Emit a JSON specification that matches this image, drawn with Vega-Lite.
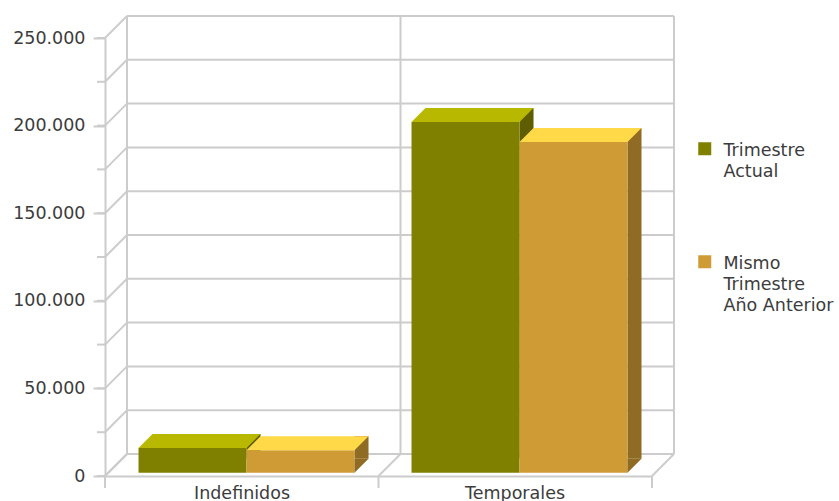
{
  "$schema": "https://vega.github.io/schema/vega-lite/v6.json",
  "width": 547,
  "height": 438,
  "autosize": {"type": "none"},
  "padding": {"left": 105, "top": 38, "right": 187, "bottom": 25},
  "background": "white",
  "config": {
    "view": {"stroke": null},
    "font": "DejaVu Sans",
    "axisY": {
      "labelExpr": "replace(format(datum.value, ','), ',', '.')",
      "labelFont": "DejaVu Sans",
      "labelFontSize": 17.5,
      "labelColor": "#3c3c3c",
      "labelPadding": 8,
      "tickSize": 12,
      "tickColor": "#cccccc",
      "tickWidth": 2,
      "domainColor": "#cccccc",
      "domainWidth": 2,
      "grid": false,
      "title": null
    },
    "axisX": {
      "labelFont": "DejaVu Sans",
      "labelFontSize": 17.5,
      "labelColor": "#3c3c3c",
      "labelAngle": 0,
      "labelOffset": -4.5,
      "labelPadding": 8,
      "ticks": false,
      "domainColor": "#cccccc",
      "domainWidth": 2,
      "grid": false,
      "title": null
    },
    "legend": {
      "orient": "none",
      "legendX": 591,
      "legendY": 102,
      "direction": "vertical",
      "title": null,
      "symbolType": "square",
      "symbolSize": 169,
      "symbolStrokeWidth": 0,
      "labelFont": "DejaVu Sans",
      "labelFontSize": 17.5,
      "labelColor": "#3c3c3c",
      "labelOffset": 10,
      "labelBaseline": "top",
      "labelLimit": 300,
      "rowPadding": 72
    }
  },
  "datasets": {
    "bars": [
      {"tipo": "Indefinidos", "serie": "Trimestre Actual", "valor": 14100},
      {"tipo": "Indefinidos", "serie": "Mismo Trimestre Año Anterior", "valor": 12800},
      {"tipo": "Temporales", "serie": "Trimestre Actual", "valor": 200200},
      {"tipo": "Temporales", "serie": "Mismo Trimestre Año Anterior", "valor": 188700}
    ],
    "levels": [
      {"valor": 0}, {"valor": 25000}, {"valor": 50000}, {"valor": 75000},
      {"valor": 100000}, {"valor": 125000}, {"valor": 150000}, {"valor": 175000},
      {"valor": 200000}, {"valor": 225000}, {"valor": 250000}
    ],
    "walls": [{"pos": 0}, {"pos": 1}, {"pos": 2}]
  },
  "layer": [
    {
      "layer": [
        {
          "data": {"name": "levels"},
          "mark": {"type": "rule", "color": "#cccccc", "strokeWidth": 2, "xOffset": 22, "x2Offset": 22, "yOffset": -22},
          "encoding": {
            "x": {"datum": 0, "type": "quantitative", "scale": {"domain": [0, 2]}, "axis": null},
            "x2": {"datum": 2},
            "y": {"field": "valor", "type": "quantitative", "title": null, "scale": {"domain": [0, 250000], "nice": false}}
          }
        },
        {
          "data": {"name": "walls"},
          "mark": {"type": "rule", "color": "#cccccc", "strokeWidth": 2, "xOffset": 22, "yOffset": -22, "y2Offset": -22},
          "encoding": {
            "x": {"field": "pos", "type": "quantitative", "scale": {"domain": [0, 2]}, "axis": null},
            "y": {"datum": 0, "type": "quantitative"},
            "y2": {"datum": 250000}
          }
        },
        {
          "data": {"name": "levels"},
          "mark": {"type": "rule", "color": "#cccccc", "strokeWidth": 2, "x2Offset": 22, "y2Offset": -22},
          "encoding": {
            "x": {"datum": 0, "type": "quantitative", "scale": {"domain": [0, 2]}, "axis": null},
            "x2": {"datum": 0},
            "y": {"field": "valor", "type": "quantitative", "title": null},
            "y2": {"field": "valor"}
          }
        },
        {
          "data": {"name": "walls"},
          "mark": {"type": "rule", "color": "#cccccc", "strokeWidth": 2, "x2Offset": 22, "y2Offset": -22},
          "encoding": {
            "x": {"field": "pos", "type": "quantitative", "scale": {"domain": [0, 2]}, "axis": null},
            "x2": {"field": "pos"},
            "y": {"datum": 0, "type": "quantitative"},
            "y2": {"datum": 0}
          }
        },
        {
          "data": {"name": "levels"},
          "mark": {"type": "rule", "color": "#cccccc", "strokeWidth": 2, "xOffset": -8},
          "encoding": {
            "x": {"datum": 0, "type": "quantitative", "scale": {"domain": [0, 2]}, "axis": null},
            "x2": {"datum": 0},
            "y": {"field": "valor", "type": "quantitative", "title": null}
          }
        },
        {
          "data": {"name": "walls"},
          "mark": {"type": "rule", "color": "#cccccc", "strokeWidth": 2, "y2Offset": 12},
          "encoding": {
            "x": {"field": "pos", "type": "quantitative", "scale": {"domain": [0, 2]}, "axis": null},
            "y": {"datum": 0, "type": "quantitative"},
            "y2": {"datum": 0}
          }
        }
      ]
    },
    {
      "data": {"name": "bars"},
      "layer": [
        {
          "transform": [{"filter": "datum.serie == 'Trimestre Actual'"}],
          "mark": {"type": "bar", "width": 14, "xOffset": 7, "yOffset": -17.3, "y2Offset": -17.3, "color": "#5e5e00"},
          "encoding": {
            "x": {"field": "tipo", "type": "nominal"},
            "y": {"field": "valor", "type": "quantitative", "title": null},
            "y2": {"datum": 0}
          }
        },
        {
          "transform": [{"filter": "datum.serie != 'Trimestre Actual'"}],
          "mark": {"type": "bar", "width": 14, "xOffset": 115, "yOffset": -17.3, "y2Offset": -17.3, "color": "#8f6b24"},
          "encoding": {
            "x": {"field": "tipo", "type": "nominal"},
            "y": {"field": "valor", "type": "quantitative", "title": null},
            "y2": {"datum": 0}
          }
        },
        {
          "mark": {"type": "bar", "yOffset": -3.3, "y2Offset": -3.3},
          "encoding": {
            "x": {"field": "tipo", "type": "nominal", "scale": {"paddingInner": 0.2088, "paddingOuter": 0.1062, "align": 0.578}},
            "xOffset": {"field": "serie", "type": "nominal", "scale": {"domain": ["Trimestre Actual", "Mismo Trimestre Año Anterior"], "paddingInner": 0, "paddingOuter": 0}},
            "y": {"field": "valor", "type": "quantitative", "title": null, "axis": {"values": [0, 50000, 100000, 150000, 200000, 250000]}},
            "color": {
              "field": "serie",
              "type": "nominal",
              "scale": {"domain": ["Trimestre Actual", "Mismo Trimestre Año Anterior"], "range": ["#808000", "#cf9b35"]},
              "legend": {
                "labelExpr": "datum.label == 'Trimestre Actual' ? ['Trimestre', 'Actual'] : ['Mismo', 'Trimestre', 'Año Anterior']",
                "encode": {"labels": {"update": {"lineHeight": {"value": 21}, "dy": {"value": -7}}}}
              }
            }
          }
        },
        {
          "transform": [{"filter": "datum.serie != 'Trimestre Actual'"}],
          "mark": {"type": "point", "shape": "M108,0 L108,-14 L122,-14 Z", "size": 4, "filled": true, "opacity": 1, "strokeWidth": 0, "color": "#8f6b24", "yOffset": -3.3},
          "encoding": {
            "x": {"field": "tipo", "type": "nominal"},
            "y": {"datum": 0, "type": "quantitative"}
          }
        },
        {
          "transform": [{"filter": "datum.serie == 'Trimestre Actual'"}],
          "mark": {"type": "point", "shape": "M-108,0 L0,0 L14,-14 L-94,-14 Z", "size": 4, "filled": true, "opacity": 1, "strokeWidth": 0, "color": "#b8b800", "yOffset": -3.3},
          "encoding": {
            "x": {"field": "tipo", "type": "nominal"},
            "y": {"field": "valor", "type": "quantitative", "title": null}
          }
        },
        {
          "transform": [{"filter": "datum.serie != 'Trimestre Actual'"}],
          "mark": {"type": "point", "shape": "M0,0 L108,0 L122,-14 L14,-14 Z", "size": 4, "filled": true, "opacity": 1, "strokeWidth": 0, "color": "#ffd948", "yOffset": -3.3},
          "encoding": {
            "x": {"field": "tipo", "type": "nominal"},
            "y": {"field": "valor", "type": "quantitative", "title": null}
          }
        }
      ]
    }
  ],
  "resolve": {"scale": {"x": "independent"}}
}
